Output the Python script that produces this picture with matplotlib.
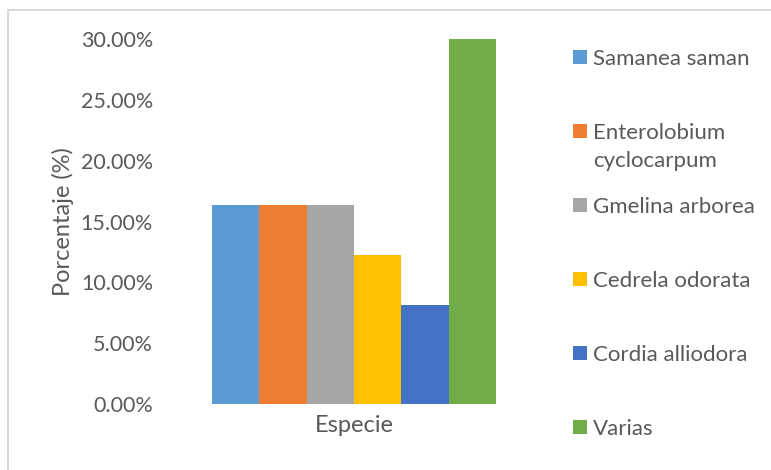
import matplotlib.pyplot as plt
from matplotlib.patches import Rectangle
from matplotlib.ticker import FuncFormatter, MultipleLocator

plt.rcParams["font.family"] = ["Lato", "DejaVu Sans"]

# share of trees per species (%)
species = [
    "Samanea saman",
    "Enterolobium\ncyclocarpum",
    "Gmelina arborea",
    "Cedrela odorata",
    "Cordia alliodora",
    "Varias",
]
percent = [16.33, 16.33, 16.33, 12.24, 8.16, 30.61]
colors = ["#5B9BD5", "#ED7D31", "#A5A5A5", "#FFC000", "#4472C4", "#70AD47"]
category = "Especie"

TEXT = "#595959"
W, H = 771, 470

fig = plt.figure(figsize=(W / 100, H / 100), dpi=100)
ax = fig.add_axes([159.5 / W, 66 / H, 389 / W, 365 / H])

# clustered columns, gap width like a spreadsheet chart
n = len(percent)
bw = 1 / (n + 2.19)
for i, (v, c) in enumerate(zip(percent, colors)):
    x = (i - (n - 1) / 2) * bw
    ax.bar(x, v, width=bw, color=c, linewidth=0)

ax.set_xlim(-0.5, 0.5)
ax.set_ylim(0, 30)
ax.yaxis.set_major_locator(MultipleLocator(5))
ax.yaxis.set_major_formatter(FuncFormatter(lambda v, p: f"{v:.2f}%"))
ax.set_xticks([0])
ax.set_xticklabels([category])

for s in ax.spines.values():
    s.set_visible(False)
ax.tick_params(length=0, labelcolor=TEXT)
ax.tick_params(axis="y", pad=4.7, labelsize=15.5)
ax.tick_params(axis="x", pad=8, labelsize=17)
ax.set_ylabel("Porcentaje (%)", fontsize=17, color=TEXT, labelpad=5)

# legend on the right, evenly spaced entries
for i, (lab, c) in enumerate(zip(species, colors)):
    yc = H - (57 + 74 * i)
    fig.add_artist(Rectangle((573 / W, (yc - 7) / H), 14 / W, 14 / H,
                             transform=fig.transFigure, color=c, lw=0))
    for j, line in enumerate(lab.split("\n")):
        fig.text(593 / W, (yc - 28 * j) / H, line, fontsize=16,
                 color=TEXT, va="center_baseline", ha="left")

# chart area border
fig.add_artist(Rectangle((8 / W, -0.1), 1.2, (H - 10) / H + 0.1,
                         transform=fig.transFigure, fill=False,
                         edgecolor="#D9D9D9", lw=1.5))

fig.savefig("out.png", dpi=100)
